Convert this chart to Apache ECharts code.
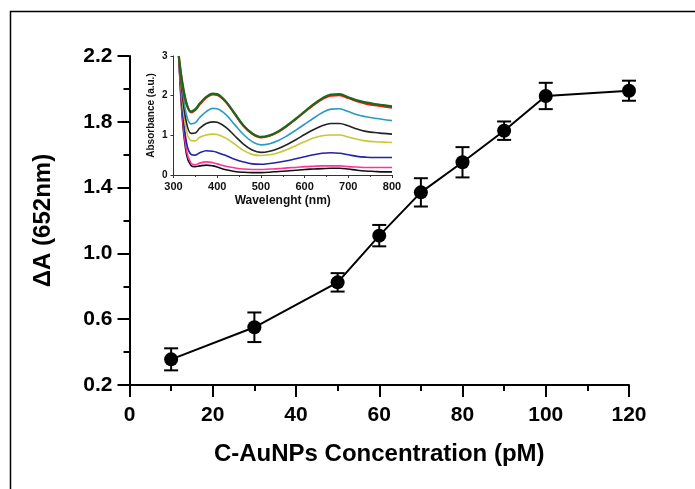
<!DOCTYPE html>
<html>
<head>
<meta charset="utf-8">
<script src="https://cdn.jsdelivr.net/npm/echarts@6/dist/echarts.min.js"></script>
<style>
html,body{margin:0;padding:0;background:#fff;}
#c{width:695px;height:489px;}
</style>
</head>
<body>
<div id="c"></div>
<script>
// ---- main chart data ----
const concentration = [10, 30, 50, 60, 70, 80, 90, 100, 120];
const deltaA = [0.356, 0.551, 0.824, 1.108, 1.371, 1.554, 1.746, 1.957, 1.989];
const deltaAErr = [0.067, 0.09, 0.056, 0.065, 0.086, 0.092, 0.056, 0.08, 0.061];
const yTicks = [0.2, 0.6, 1.0, 1.4, 1.8, 2.2];
const yMinorTicks = [0.4, 0.8, 1.2, 1.6, 2.0];

// ---- inset spectra data ----
const wavelength = [312, 320, 330, 340, 350, 360, 375, 390, 400, 420, 440, 460, 480, 500, 520, 540, 560, 580, 600, 620, 640, 660, 680, 700, 720, 740, 760, 780, 800];
const specGreen = [3.0, 2.35, 1.8, 1.6, 1.66, 1.8, 1.97, 2.05, 2.04, 1.85, 1.55, 1.25, 1.05, 0.96, 1.0, 1.1, 1.25, 1.42, 1.6, 1.78, 1.93, 2.03, 2.04, 1.96, 1.88, 1.83, 1.79, 1.76, 1.73];
const specRed = [3.0, 2.3, 1.78, 1.58, 1.64, 1.78, 1.95, 2.03, 2.02, 1.84, 1.54, 1.24, 1.04, 0.95, 0.99, 1.09, 1.24, 1.41, 1.59, 1.76, 1.91, 2.0, 2.01, 1.94, 1.86, 1.8, 1.76, 1.73, 1.70];
const specTeal = [3.0, 2.2, 1.5, 1.29, 1.32, 1.45, 1.6, 1.68, 1.67, 1.52, 1.27, 1.02, 0.84, 0.76, 0.79, 0.87, 0.99, 1.13, 1.28, 1.43, 1.57, 1.66, 1.67, 1.6, 1.52, 1.47, 1.43, 1.4, 1.37];
const specBlack = [3.0, 2.05, 1.3, 1.05, 1.06, 1.18, 1.3, 1.34, 1.33, 1.2, 0.99, 0.78, 0.63, 0.57, 0.6, 0.67, 0.77, 0.89, 1.02, 1.14, 1.24, 1.3, 1.3, 1.24, 1.16, 1.1, 1.07, 1.05, 1.03];
const specOlive = [3.0, 1.9, 1.1, 0.87, 0.86, 0.95, 1.01, 1.03, 1.02, 0.93, 0.78, 0.62, 0.52, 0.49, 0.51, 0.56, 0.64, 0.74, 0.84, 0.93, 0.99, 1.01, 1.01, 0.96, 0.9, 0.86, 0.84, 0.83, 0.82];
const specBlue = [3.0, 1.7, 0.8, 0.52, 0.5, 0.56, 0.61, 0.6, 0.57, 0.49, 0.4, 0.33, 0.28, 0.27, 0.29, 0.32, 0.36, 0.41, 0.46, 0.51, 0.55, 0.56, 0.55, 0.51, 0.47, 0.45, 0.44, 0.44, 0.44];
const specPink = [3.0, 1.55, 0.6, 0.3, 0.26, 0.3, 0.33, 0.31, 0.28, 0.22, 0.18, 0.15, 0.14, 0.14, 0.15, 0.16, 0.18, 0.19, 0.21, 0.22, 0.23, 0.23, 0.23, 0.21, 0.2, 0.19, 0.19, 0.19, 0.19];
const specBlack2 = [3.0, 1.45, 0.5, 0.24, 0.21, 0.23, 0.25, 0.23, 0.2, 0.13, 0.09, 0.07, 0.06, 0.06, 0.07, 0.09, 0.1, 0.12, 0.14, 0.15, 0.16, 0.17, 0.17, 0.15, 0.12, 0.1, 0.09, 0.08, 0.08];

const spectra = [
  {d: specBlack2, c: '#111111', w: 1.6},
  {d: specPink, c: '#ff3399', w: 1.6},
  {d: specBlue, c: '#2222aa', w: 1.6},
  {d: specOlive, c: '#c8c832', w: 1.6},
  {d: specBlack, c: '#222222', w: 1.6},
  {d: specTeal, c: '#2a9bbf', w: 1.6},
  {d: specRed, c: '#ff1010', w: 2.2},
  {d: specGreen, c: '#1a6a1a', w: 2.2}
];

const font = 'Liberation Sans, Arial, sans-serif';
const chart = echarts.init(document.getElementById('c'), null, {renderer: 'canvas'});

const spectraSeries = spectra.map(s => ({
  type: 'line',
  xAxisIndex: 1,
  yAxisIndex: 2,
  data: wavelength.map((w, i) => [w, s.d[i]]),
  smooth: 0.35,
  showSymbol: false,
  silent: true,
  lineStyle: {color: s.c, width: s.w},
  z: 5
}));

const option = {
  animation: false,
  backgroundColor: '#ffffff',
  graphic: [{
    type: 'rect',
    shape: {x: 10.5, y: 11.5, width: 720, height: 520},
    style: {fill: 'none', stroke: '#000', lineWidth: 1.5},
    silent: true
  }],
  grid: [
    {left: 129.5, right: 66, top: 56, bottom: 104},
    {left: 173.5, right: 303, top: 56, bottom: 314}
  ],
  xAxis: [
    {
      type: 'value', gridIndex: 0, min: 0, max: 120, interval: 20,
      axisLine: {show: true, onZero: false, lineStyle: {color: '#000', width: 2}},
      axisTick: {show: true, length: 12, lineStyle: {color: '#000', width: 2}},
      minorTick: {show: true, splitNumber: 2, length: 6, lineStyle: {color: '#000', width: 2}},
      splitLine: {show: false},
      axisLabel: {margin: 20, color: '#000', fontSize: 21, fontWeight: 'bold', fontFamily: font},
      name: 'C-AuNPs Concentration (pM)', nameLocation: 'middle', nameGap: 57,
      nameTextStyle: {color: '#000', fontSize: 24, fontWeight: 'bold', fontFamily: font}
    },
    {
      type: 'value', gridIndex: 1, min: 300, max: 800, interval: 100,
      axisLine: {show: true, onZero: false, lineStyle: {color: '#333', width: 1}},
      axisTick: {show: true, length: 3, lineStyle: {color: '#333', width: 1}},
      minorTick: {show: true, splitNumber: 2, length: 2, lineStyle: {color: '#333', width: 1}},
      splitLine: {show: false},
      axisLabel: {margin: 6, color: '#111', fontSize: 11, fontWeight: 'bold', fontFamily: font},
      name: 'Wavelenght (nm)', nameLocation: 'middle', nameGap: 20,
      nameTextStyle: {color: '#111', fontSize: 12, fontWeight: 'bold', fontFamily: font}
    }
  ],
  yAxis: [
    {
      type: 'value', gridIndex: 0, min: 0.2, max: 2.2,
      axisLine: {show: true, onZero: false, lineStyle: {color: '#000', width: 2}},
      axisTick: {show: true, length: 12, customValues: yTicks, lineStyle: {color: '#000', width: 2}},
      splitLine: {show: false},
      axisLabel: {margin: 17, customValues: yTicks, color: '#000', fontSize: 21, fontWeight: 'bold', fontFamily: font,
        formatter: v => v.toFixed(1)},
      name: 'ΔA (652nm)', nameLocation: 'middle', nameGap: 74,
      nameTextStyle: {color: '#000', fontSize: 24, fontWeight: 'bold', fontFamily: font}
    },
    {
      type: 'value', gridIndex: 0, min: 0.2, max: 2.2, position: 'left',
      axisLine: {show: false},
      axisTick: {show: true, length: 6, customValues: yMinorTicks, lineStyle: {color: '#000', width: 2}},
      splitLine: {show: false},
      axisLabel: {show: false}
    },
    {
      type: 'value', gridIndex: 1, min: 0, max: 3, interval: 1,
      axisLine: {show: true, onZero: false, lineStyle: {color: '#333', width: 1}},
      axisTick: {show: true, length: 3, lineStyle: {color: '#333', width: 1}},
      splitLine: {show: false},
      axisLabel: {margin: 6, color: '#111', fontSize: 10, fontWeight: 'bold', fontFamily: font},
      name: 'Absorbance (a.u.)', nameLocation: 'middle', nameGap: 17,
      nameTextStyle: {color: '#111', fontSize: 10, fontWeight: 'bold', fontFamily: font}
    }
  ],
  series: [
    {
      type: 'custom',
      xAxisIndex: 0, yAxisIndex: 0,
      data: concentration.map((x, i) => [x, deltaA[i], deltaAErr[i]]),
      renderItem: function (params, api) {
        const x = api.value(0), y = api.value(1), e = api.value(2);
        const top = api.coord([x, y + e]);
        const bot = api.coord([x, y - e]);
        const hw = 7;
        const st = {stroke: '#000', lineWidth: 2};
        return {
          type: 'group',
          children: [
            {type: 'line', shape: {x1: top[0], y1: top[1], x2: bot[0], y2: bot[1]}, style: st},
            {type: 'line', shape: {x1: top[0] - hw, y1: top[1], x2: top[0] + hw, y2: top[1]}, style: st},
            {type: 'line', shape: {x1: bot[0] - hw, y1: bot[1], x2: bot[0] + hw, y2: bot[1]}, style: st}
          ]
        };
      },
      z: 3,
      silent: true
    },
    {
      type: 'line',
      xAxisIndex: 0, yAxisIndex: 0,
      data: concentration.map((x, i) => [x, deltaA[i]]),
      symbol: 'circle', symbolSize: 14,
      itemStyle: {color: '#000'},
      lineStyle: {color: '#000', width: 2},
      z: 4,
      silent: true
    }
  ].concat(spectraSeries)
};
chart.setOption(option);
</script>
</body>
</html>
